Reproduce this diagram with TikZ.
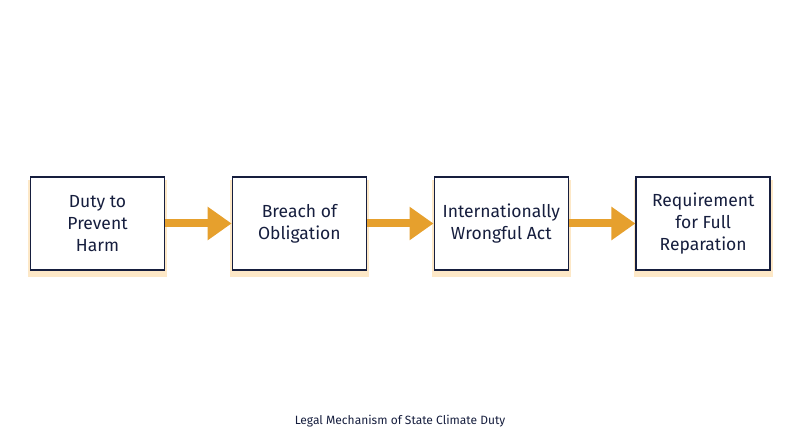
\documentclass[tikz,border=0pt]{standalone}
\usepackage{fontspec}
\setmainfont{Fira Sans}
\usetikzlibrary{arrows.meta,positioning,shadows}
\definecolor{navy}{RGB}{22,30,62}
\definecolor{amber}{RGB}{230,160,45}
\definecolor{glow}{RGB}{252,226,185}

\begin{document}
\begin{tikzpicture}[x=1pt, y=1pt,
		stage/.style={draw=navy, line width=1.6pt, fill=white, minimum width=134pt, minimum height=93pt,
			align=center, text=navy, font=\fontsize{17.5}{22}\selectfont,
			drop shadow={shadow xshift=0pt, shadow yshift=-5pt, shadow scale=1.04, fill=glow, opacity=0.8}},
		flow/.style={draw=amber, line width=8pt, -{Triangle[length=24pt, width=32pt]}}]

		% canvas
		\useasboundingbox (0,0) rectangle (800,447);

		% steps of the mechanism
		\node[stage] (duty) at (97.5,223.5) {Duty to\\Prevent\\Harm};
		\node[stage, right=66.3pt of duty] (breach) {Breach of\\Obligation};
		\node[stage, right=66.3pt of breach] (wrong) {Internationally\\Wrongful Act};
		\node[stage, right=66.3pt of wrong] (repar) {Requirement\\for Full\\Reparation};

		% links
		\draw[flow] (duty.east) -- (breach.west);
		\draw[flow] (breach.east) -- (wrong.west);
		\draw[flow] (wrong.east) -- (repar.west);

		% caption
		\node[text=navy, font=\fontsize{12}{14}\selectfont] (caption) at (400,26) {Legal Mechanism of State Climate Duty};

\end{tikzpicture}
\end{document}
